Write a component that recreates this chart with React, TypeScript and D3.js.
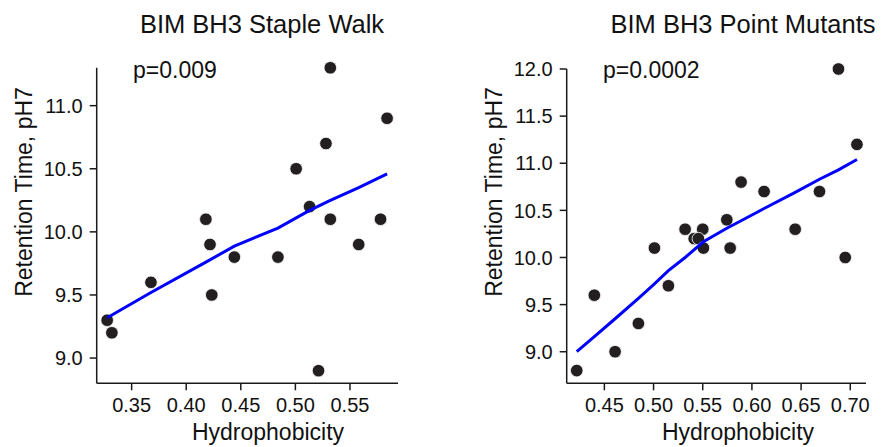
import React from "react";
import * as d3 from "d3";

// Left panel: BIM BH3 Staple Walk
const walkHydro = [0.532, 0.584, 0.528, 0.5007, 0.513, 0.532, 0.578, 0.418, 0.4218, 0.4441, 0.484, 0.558, 0.3677, 0.4234, 0.3276, 0.3319, 0.5212];
const walkRet = [11.3, 10.9, 10.7, 10.5, 10.2, 10.1, 10.1, 10.1, 9.9, 9.8, 9.8, 9.9, 9.6, 9.5, 9.3, 9.2, 8.9];
const walkFitX = [0.3276, 0.3677, 0.418, 0.4441, 0.484, 0.513, 0.532, 0.558, 0.584];
const walkFitY = [9.32, 9.52, 9.76, 9.887, 10.03, 10.17, 10.25, 10.35, 10.46];
const walkXTicks = [0.35, 0.4, 0.45, 0.5, 0.55];
const walkYTicks = [9.0, 9.5, 10.0, 10.5, 11.0];

// Right panel: BIM BH3 Point Mutants
const pointHydro = [0.688, 0.7068, 0.589, 0.6124, 0.6687, 0.5745, 0.5321, 0.55, 0.644, 0.5413, 0.5456, 0.5009, 0.5507, 0.5779, 0.6949, 0.5151, 0.4398, 0.4846, 0.4609, 0.4219];
const pointRet = [12.0, 11.2, 10.8, 10.7, 10.7, 10.4, 10.3, 10.3, 10.3, 10.2, 10.2, 10.1, 10.1, 10.1, 10.0, 9.7, 9.6, 9.3, 9.0, 8.8];
const pointFitX = [0.4219, 0.4398, 0.4609, 0.4846, 0.5009, 0.5151, 0.5321, 0.5507, 0.5745, 0.589, 0.6124, 0.644, 0.6687, 0.688, 0.7068];
const pointFitY = [9.0, 9.16, 9.35, 9.566, 9.72, 9.86, 10.0, 10.167, 10.31, 10.39, 10.52, 10.69, 10.83, 10.93, 11.04];
const pointXTicks = [0.45, 0.5, 0.55, 0.6, 0.65, 0.7];
const pointYTicks = [9.0, 9.5, 10.0, 10.5, 11.0, 11.5, 12.0];

const titles = ["BIM BH3 Staple Walk", "BIM BH3 Point Mutants"];
const pLabels = ["p=0.009", "p=0.0002"];
const xLabel = "Hydrophobicity";
const yLabel = "Retention Time, pH7";

const FONT = "Arial, 'Liberation Sans', Helvetica, sans-serif";

type PanelProps = {
  xs: number[];
  ys: number[];
  fx: number[];
  fy: number[];
  xTicks: number[];
  yTicks: number[];
  xDomain: [number, number];
  yDomain: [number, number];
  left: number;
  right: number;
  top: number;
  bottom: number;
  title: string;
  titleX: number;
  pLabel: string;
  pX: number;
  xLabelX: number;
  yLabelX: number;
};

function Panel(p: PanelProps) {
  const x = d3.scaleLinear().domain(p.xDomain).range([p.left, p.right]);
  const y = d3.scaleLinear().domain(p.yDomain).range([p.bottom, p.top]);
  const line = d3
    .line<number>()
    .x((d) => x(d))
    .y((_, i) => y(p.fy[i]));
  const axisColor = "#1a1a1a";
  const tick = 7;
  return (
    <g>
      <text x={p.titleX} y={33} textAnchor="middle" fontSize={25.5} fontFamily={FONT} fill="#111">
        {p.title}
      </text>
      <text x={p.pX} y={78} fontSize={23} fontFamily={FONT} fill="#111">
        {p.pLabel}
      </text>
      {/* axes */}
      <line x1={p.left} x2={p.left} y1={p.top} y2={p.bottom} stroke={axisColor} strokeWidth={1.5} />
      <line x1={p.left} x2={p.right} y1={p.bottom} y2={p.bottom} stroke={axisColor} strokeWidth={1.5} />
      {p.xTicks.map((t) => (
        <g key={"x" + t}>
          <line x1={x(t)} x2={x(t)} y1={p.bottom} y2={p.bottom + tick} stroke={axisColor} strokeWidth={1.5} />
          <text x={x(t)} y={411.5} textAnchor="middle" fontSize={20} fontFamily={FONT} fill="#111">
            {d3.format(".2f")(t)}
          </text>
        </g>
      ))}
      {p.yTicks.map((t) => (
        <g key={"y" + t}>
          <line x1={p.left - tick} x2={p.left} y1={y(t)} y2={y(t)} stroke={axisColor} strokeWidth={1.5} />
          <text x={p.left - 14} y={y(t)} dy="0.36em" textAnchor="end" fontSize={20} fontFamily={FONT} fill="#111">
            {d3.format(".1f")(t)}
          </text>
        </g>
      ))}
      <text x={p.xLabelX} y={440} textAnchor="middle" fontSize={23} fontFamily={FONT} fill="#111">
        {xLabel}
      </text>
      <text
        transform={`translate(${p.yLabelX},192) rotate(-90)`}
        textAnchor="middle"
        fontSize={23}
        fontFamily={FONT}
        fill="#111"
      >
        {yLabel}
      </text>
      {p.xs.map((d, i) => (
        <circle key={i} cx={x(d)} cy={y(p.ys[i])} r={6.3} fill="#231f20" stroke="#fff" strokeWidth={0.8} />
      ))}
      <path d={line(p.fx) || ""} fill="none" stroke="#0000ff" strokeWidth={3} />
    </g>
  );
}

export default function App() {
  return (
    <svg
      width={883}
      height={447}
      style={{ position: "absolute", left: 0, top: 0, display: "block", background: "#fff" }}
    >
      <Panel
        xs={walkHydro}
        ys={walkRet}
        fx={walkFitX}
        fy={walkFitY}
        xTicks={walkXTicks}
        yTicks={walkYTicks}
        xDomain={[0.318, 0.594]}
        yDomain={[8.8, 11.3]}
        left={96.7}
        right={398}
        top={67.8}
        bottom={383.3}
        title={titles[0]}
        titleX={262}
        pLabel={pLabels[0]}
        pX={133}
        xLabelX={268}
        yLabelX={32}
      />
      <Panel
        xs={pointHydro}
        ys={pointRet}
        fx={pointFitX}
        fy={pointFitY}
        xTicks={pointXTicks}
        yTicks={pointYTicks}
        xDomain={[0.4117, 0.716]}
        yDomain={[8.665, 12.0]}
        left={566.7}
        right={866}
        top={69}
        bottom={383.3}
        title={titles[1]}
        titleX={743}
        pLabel={pLabels[1]}
        pX={603}
        xLabelX={738}
        yLabelX={502}
      />
    </svg>
  );
}
